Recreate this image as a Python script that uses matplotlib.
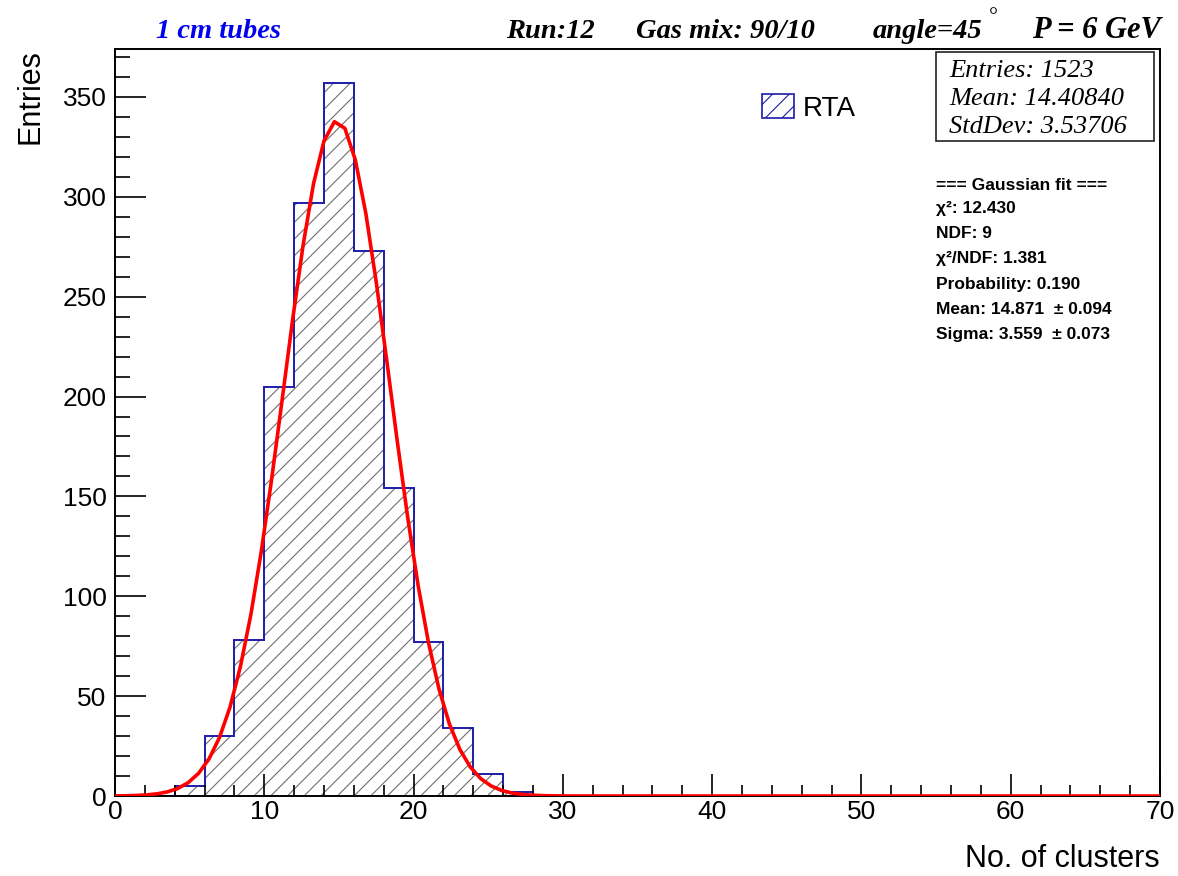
import numpy as np
import matplotlib
matplotlib.use("Agg")
import matplotlib.pyplot as plt
from matplotlib.patches import Patch, Rectangle

# histogram data (bin width 2, range 0-70)
bin_edges = np.arange(0, 72, 2)
counts = [0, 0, 5, 30, 78, 205, 297, 357, 273, 154, 77, 34, 11, 2] + [0] * 21

# gaussian fit parameters
fit_const = 338.0
fit_mean = 14.871
fit_sigma = 3.559

stats_lines = ["Entries: 1523", "Mean: 14.40840", "StdDev: 3.53706"]
fit_lines = ["=== Gaussian fit ===", "\u03c7\u00b2: 12.430", "NDF: 9",
             "\u03c7\u00b2/NDF: 1.381", "Probability: 0.190",
             "Mean: 14.871  \u00b1 0.094", "Sigma: 3.559  \u00b1 0.073"]

W, H = 1178, 876
plt.rcParams['font.family'] = ['Liberation Sans', 'DejaVu Sans']
plt.rcParams['hatch.linewidth'] = 0.8

fig = plt.figure(figsize=(W / 100, H / 100), dpi=100)
ax = fig.add_axes([115 / W, 1 - 796 / H, (1160 - 115) / W, (796 - 49) / H])

def fx(px):
    return px / W

def fy(py):
    return 1 - py / H

# hatched fill + blue outline
ax.stairs(counts, bin_edges, fill=True, facecolor='none', edgecolor='#707070',
          hatch='//', linewidth=0)
ax.stairs(counts, bin_edges, color='#1c1ca8', linewidth=1.4)

# fit curve
xf = np.linspace(0, 70, 101)
yf = fit_const * np.exp(-0.5 * ((xf - fit_mean) / fit_sigma) ** 2)
ax.plot(xf, yf, color='#ff0000', linewidth=2.6, zorder=5)

ax.set_xlim(0, 70)
ax.set_ylim(0, 374)
ax.set_xticks(np.arange(0, 71, 10))
ax.set_xticks(np.arange(0, 71, 2), minor=True)
ax.set_yticks(np.arange(0, 351, 50))
ax.set_yticks(np.arange(0, 371, 10), minor=True)
ax.tick_params(axis='x', which='major', direction='in', length=16, width=1.2,
               labelsize=19, pad=3, top=False)
ax.tick_params(axis='x', which='minor', direction='in', length=8, width=1.2, top=False)
ax.tick_params(axis='y', which='major', direction='in', length=22, width=1.2,
               labelsize=19, pad=6, right=False)
ax.tick_params(axis='y', which='minor', direction='in', length=11, width=1.2, right=False)
for s in ax.spines.values():
    s.set_linewidth(1.4)

ax.set_xlabel("No. of clusters", fontsize=22, loc='right', labelpad=14)
ax.set_ylabel("Entries", fontsize=22, loc='top', labelpad=12)

# legend
leg = ax.legend([Patch(facecolor='white', edgecolor='#1c1ca8', hatch='//', linewidth=1.2)],
                ["RTA"], loc='center left', bbox_to_anchor=(fx(737), fy(108)),
                bbox_transform=fig.transFigure, frameon=False, fontsize=20,
                handlelength=1.15, handleheight=0.95, handletextpad=0.3)

# header texts
hdr = dict(fontsize=20.5, fontweight='bold', fontstyle='italic',
           family=['Liberation Serif', 'DejaVu Serif'], va='center')
fig.text(fx(218), fy(31), "1 cm tubes", color='#0000ee', ha='center', **hdr)
fig.text(fx(506), fy(31), "Run:12", ha='left', **hdr)
fig.text(fx(636), fy(31), "Gas mix: 90/10", ha='left', **hdr)
fig.text(fx(873), fy(31), "angle=45", ha='left', **hdr)
fig.text(fx(993), fy(22), "\u00b0", ha='center', fontsize=16,
         family=['Liberation Serif', 'DejaVu Serif'], va='baseline')
fig.text(fx(1161), fy(31), "P = 6 GeV", ha='right', fontsize=22, fontweight='bold',
         fontstyle='italic', family=['Liberation Serif', 'DejaVu Serif'], va='center')

# stats box
fig.patches.append(Rectangle((fx(936), fy(141)), fx(1154) - fx(936), fy(52) - fy(141),
                             transform=fig.transFigure, facecolor='white',
                             edgecolor='#222222', linewidth=1.2, zorder=3))
for i, line in enumerate(stats_lines):
    fig.text(fx(949), fy(71 + 28 * i), line, fontsize=19, fontstyle='italic',
             family=['Liberation Serif', 'DejaVu Serif'], va='center', ha='left', zorder=4)

# fit summary text
fit_y = [186, 209, 234, 259, 284, 310, 334]
for y, line in zip(fit_y, fit_lines):
    fig.text(fx(936), fy(y), line, fontsize=12.5, fontweight='bold',
             va='center', ha='left')

fig.savefig("out.png", dpi=100)
